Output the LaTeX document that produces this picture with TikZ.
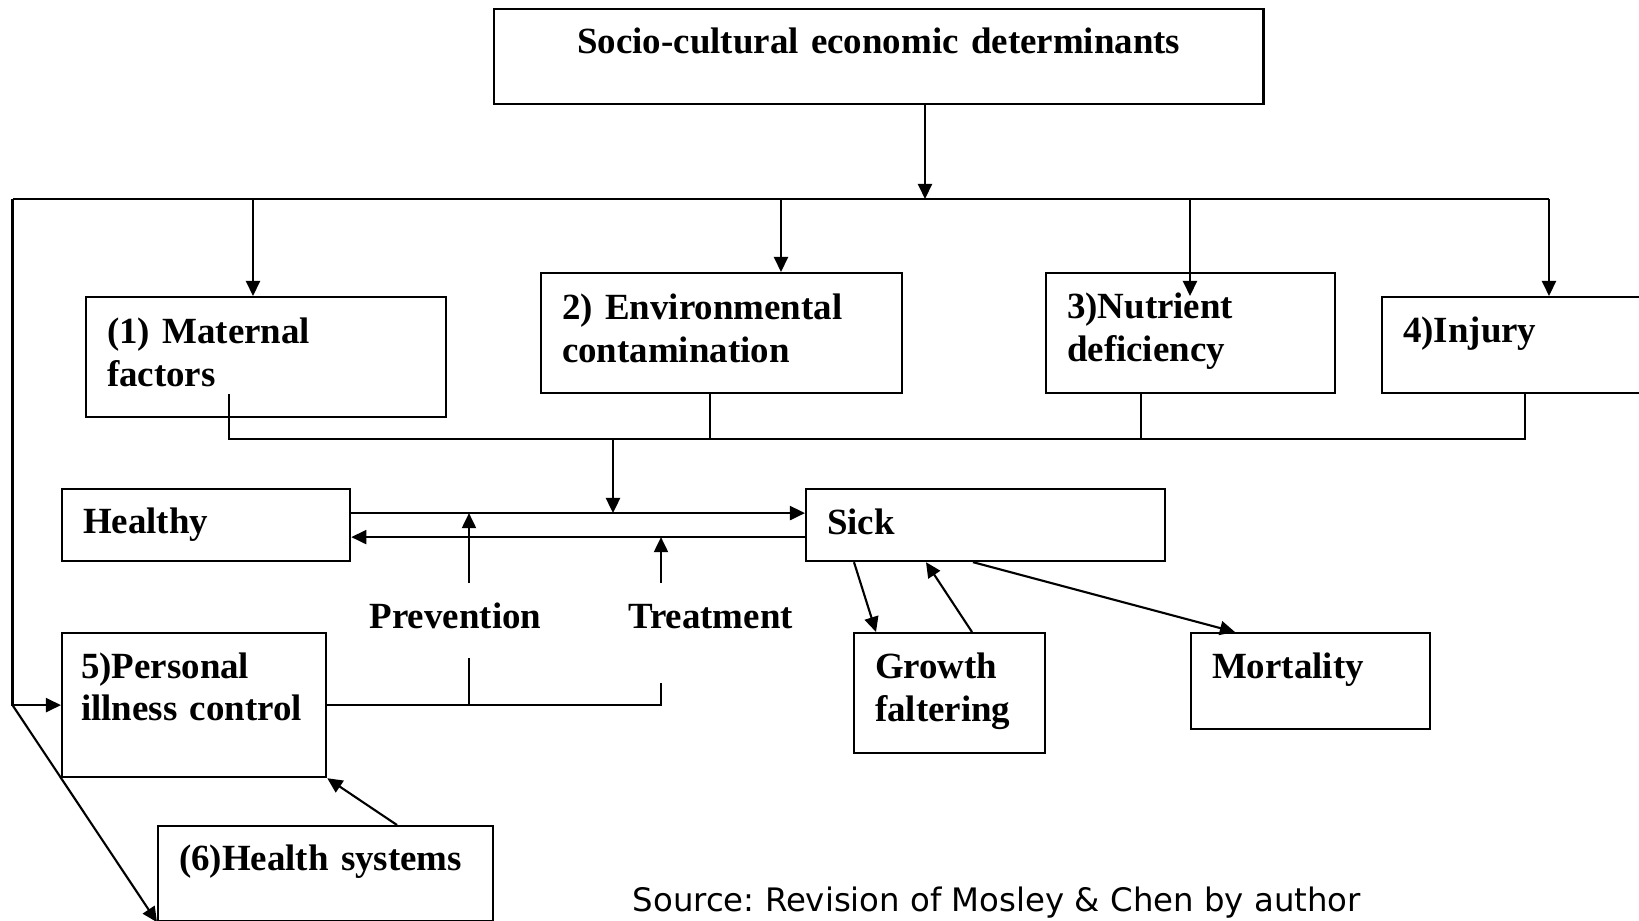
\documentclass[tikz,border=0pt]{standalone}
\usepackage{fontspec}
\setmainfont{Liberation Serif}
\newfontfamily\srcfont{DejaVu Sans}
\usetikzlibrary{arrows.meta,positioning,calc}
\frenchspacing

\begin{document}
\begin{tikzpicture}[x=0.01cm, y=-0.01cm,
    box/.style={draw, line width=0.6pt, anchor=north west, align=left, inner xsep=0.21cm, inner ysep=0pt,
      font=\fontsize{10.5pt}{12.2pt}\selectfont\bfseries},
    lbl/.style={font=\fontsize{10.5pt}{12.2pt}\selectfont\bfseries, inner sep=0pt, anchor=base},
    link/.style={line width=0.6pt},
    arr/.style={line width=0.6pt, -{Triangle[length=4.3pt, width=4pt]}}]
  \clip (0,0) rectangle (1639,920);

  % determinants
  \node[box, align=center, text width=7.27cm, minimum height=0.95cm, text depth=9pt] (top) at (493,8) {Socio-cultural economic determinants};
  \node[box, text width=3.18cm, minimum height=1.2cm, text depth=15.2pt] (mat) at (85,296) {(1) Maternal\\factors};
  \node[box, text width=3.19cm, minimum height=1.2cm, text depth=15.2pt] (env) at (540,272) {2) Environmental\\contamination};
  \node[box, text width=2.47cm, minimum height=1.2cm, text depth=15.6pt] (nut) at (1045,272) {3)Nutrient\\deficiency};
  \node[box, text width=2.78cm, minimum height=0.96cm, text depth=9pt] (inj) at (1381,296) {4)Injury};

  % states
  \node[box, text width=2.46cm, minimum height=0.72cm] (healthy) at (61,488) {Healthy};
  \node[box, text width=3.17cm, minimum height=0.72cm, text depth=2.2pt] (sick) at (805,488) {Sick};
  \node[box, text width=1.49cm, minimum height=1.2cm, text depth=15.6pt] (growth) at (853,632) {Growth\\faltering};
  \node[box, text width=1.97cm, minimum height=0.96cm, text depth=9pt] (mort) at (1190,632) {Mortality};
  \node[lbl] (prev) at (455.5,628) {Prevention};
  \node[lbl] (treat) at (710.5,628) {Treatment};

  % control
  \node[box, inner xsep=0.19cm, text width=2.26cm, minimum height=1.44cm, text depth=22.7pt] (pers) at (61,632) {5)Personal\\illness control};
  \node[box, text width=2.93cm, minimum height=0.95cm, text depth=9pt] (hs) at (157,825) {(6)Health systems};

  \node[font=\srcfont\fontsize{9.2pt}{11pt}\selectfont, anchor=base west, inner sep=0pt] (src) at (632,911) {Source: Revision of Mosley \& Chen by author};

  % distribution bar
  \coordinate (barL) at (12.5,199);
  \coordinate (t0) at (925,199);
  \coordinate (d1) at (253,199);
  \coordinate (d2) at (781,199);
  \coordinate (d3) at (1190,199);
  \coordinate (d4) at (1549,199);
  \draw[arr] (t0 |- top.south) -- (t0);
  \draw[link] (barL) -- (d4);
  \draw[arr] (d1) -- (d1 |- mat.north);
  \draw[arr] (d2) -- (d2 |- env.north);
  \draw[arr] (d3) -- (d3 |- inj.north);
  \draw[arr] (d4) -- (d4 |- inj.north);

  % collector
  \coordinate (c0) at (613,439);
  \coordinate (c1) at (229,439);
  \coordinate (c2) at (710,439);
  \coordinate (c3) at (1141,439);
  \coordinate (c4) at (1525,439);
  \draw[link] (c1 |- env.south) -- (c1) -- (c4) -- (c4 |- inj.south);
  \draw[link] (c2) -- (c2 |- env.south);
  \draw[link] (c3) -- (c3 |- nut.south);

  \coordinate (hs1) at ([yshift=0.12cm]healthy.east);
  \coordinate (sh1) at ([yshift=-0.12cm]sick.west);
  \draw[arr] (hs1) -- (hs1 -| sick.west);
  \draw[arr] (sh1) -- (sh1 -| healthy.east);
  \draw[arr] (c0) -- (c0 |- hs1);

  \coordinate (pv) at (469,583);
  \coordinate (tr) at (661,583);
  \draw[arr] (pv) -- (pv |- hs1);
  \draw[arr] (tr) -- (tr |- sh1);
  \draw[link] (pers.east) -- (pers.east -| tr) -- ++(0,-22);
  \draw[link] (pers.east -| pv) -- ++(0,-47);

  % left loop
  \draw[arr] (barL) -- (barL |- pers.west) -- (pers.west);
  \draw[arr] (barL |- pers.west) -- (hs.south west);
  \draw[arr] ($(hs.north west)+(240,0)$) -- (pers.south east);

  % outcomes
  \draw[arr] ($(sick.south west)+(49,0)$) -- ($(growth.north west)+(23,0)$);
  \draw[arr] ($(growth.north west)+(119,0)$) -- ($(sick.south west)+(121,0)$);
  \draw[arr] ($(sick.south west)+(168,0)$) -- ($(mort.north west)+(45,0)$);
\end{tikzpicture}
\end{document}
